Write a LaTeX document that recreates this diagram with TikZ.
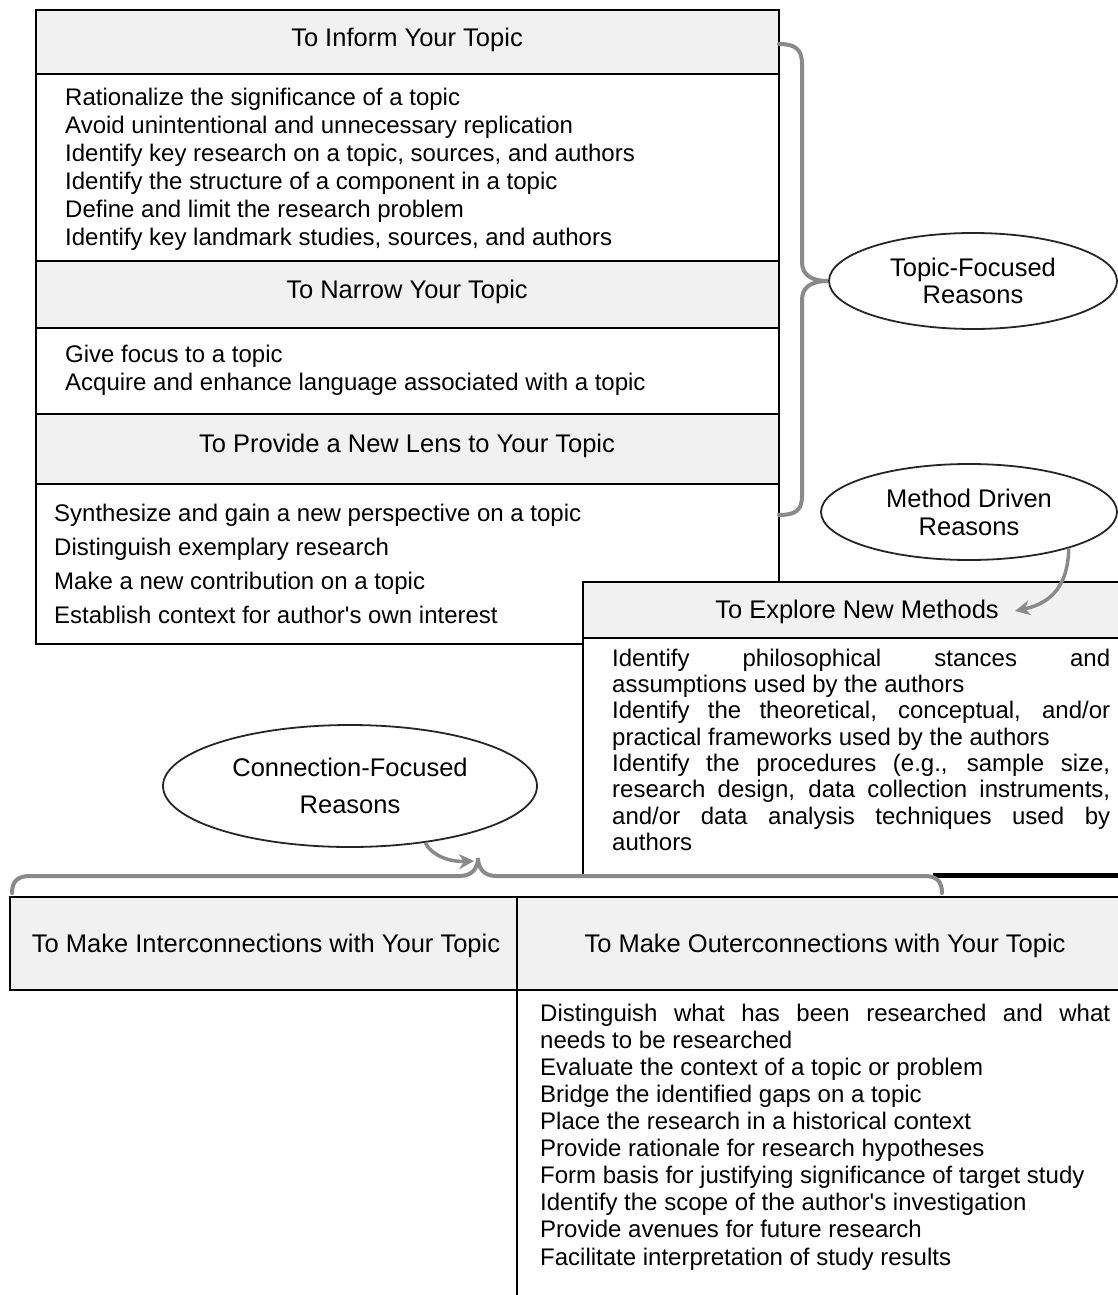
\documentclass[tikz,border=0pt]{standalone}
\usepackage{fontspec}
\setmainfont{Liberation Sans}
\usetikzlibrary{shapes.geometric,arrows.meta}
\definecolor{hdr}{HTML}{F1F1F1}
\definecolor{brc}{HTML}{8A8A8A}
\begin{document}
\begin{tikzpicture}[x=1pt,y=-1pt,
  box/.style={draw=black,line width=1.5pt},
  hdrbox/.style={box,fill=hdr},
  hdrtext/.style={font=\fontsize{25.5}{28}\selectfont,inner sep=0pt,anchor=base},
  items/.style={align=left,inner sep=0pt,anchor=north west},
  oval/.style={ellipse,draw=black!85,line width=1.8pt,fill=white,inner sep=0pt,align=center},
  brace/.style={draw=brc,line width=4pt,line cap=round},
  arr/.style={draw=brc,line width=3.5pt,-{Stealth[length=15pt,width=15pt]}}
]
\useasboundingbox (0,0) rectangle (1118,1295);

% ---------- left stacked box ----------
\path[hdrbox] (36,10) rectangle (779,74);
\draw[box] (36,74) rectangle (779,261);
\path[hdrbox] (36,261) rectangle (779,328);
\draw[box] (36,328) rectangle (779,414);
\path[hdrbox] (36,414) rectangle (779,484);
\draw[box] (36,484) rectangle (779,644);

\node[hdrtext] (inform) at (407,47) {To Inform Your Topic};
\node[items,font=\fontsize{24}{28}\selectfont] (informitems) at (65,85.4) {%
\strut Rationalize the significance of a topic\\
\strut Avoid unintentional and unnecessary replication\\
\strut Identify key research on a topic, sources, and authors\\
\strut Identify the structure of a component in a topic\\
\strut Define and limit the research problem\\
\strut Identify key landmark studies, sources, and authors};

\node[hdrtext] (narrow) at (407,298) {To Narrow Your Topic};
\node[items,font=\fontsize{24}{28}\selectfont] (narrowitems) at (65,342.4) {%
\strut Give focus to a topic\\
\strut Acquire and enhance language associated with a topic};

\node[hdrtext] (lens) at (407,452) {To Provide a New Lens to Your Topic};
\node[items,font=\fontsize{24}{34}\selectfont] (lensitems) at (54,497.2) {%
\strut Synthesize and gain a new perspective on a topic\\
\strut Distinguish exemplary research\\
\strut Make a new contribution on a topic\\
\strut Establish context for author\textquotesingle s own interest};

% ---------- explore box ----------
\fill[white] (583,582) rectangle (1125,875);
\path[hdrbox] (583,582) rectangle (1125,638);
\draw[box] (583,876) -- (583,582) -- (1125,582);
\draw[line width=5pt] (933,875) -- (1125,875);
\node[hdrtext] (explore) at (857,618) {To Explore New Methods};
\node[items,font=\fontsize{24}{26.3}\selectfont] (exploreitems) at (612,647.6) {%
\strut\makebox[498pt][s]{Identify philosophical stances and}\\
\strut assumptions used by the authors\\
\strut\makebox[498pt][s]{Identify the theoretical, conceptual, and/or}\\
\strut practical frameworks used by the authors\\
\strut\makebox[498pt][s]{Identify the procedures (e.g., sample size,}\\
\strut\makebox[498pt][s]{research design, data collection instruments,}\\
\strut\makebox[498pt][s]{and/or data analysis techniques used by}\\
\strut authors};

% ---------- bottom row ----------
\path[hdrbox] (10,897) rectangle (517,990);
\path[hdrbox] (517,897) rectangle (1125,990);
\draw[box] (517,990) -- (517,1300);
\node[hdrtext] (inter) at (266,952) {To Make Interconnections with Your Topic};
\node[hdrtext] (outer) at (825,952) {To Make Outerconnections with Your Topic};
\node[items,font=\fontsize{24}{27.1}\selectfont] (outeritems) at (540,1002) {%
\strut\makebox[570pt][s]{Distinguish what has been researched and what}\\
\strut needs to be researched\\
\strut Evaluate the context of a topic or problem\\
\strut Bridge the identified gaps on a topic\\
\strut Place the research in a historical context\\
\strut Provide rationale for research hypotheses\\
\strut Form basis for justifying significance of target study\\
\strut Identify the scope of the author\textquotesingle s investigation\\
\strut Provide avenues for future research\\
\strut Facilitate interpretation of study results};

% ---------- ellipses ----------
\node[oval,minimum width=288pt,minimum height=96pt,font=\fontsize{25.5}{27}\selectfont] (topic) at (973,281) {Topic-Focused\\Reasons};
\node[oval,minimum width=296pt,minimum height=96pt,font=\fontsize{25.5}{28}\selectfont] (method) at (969,512) {Method Driven\\Reasons};
\node[oval,minimum width=374pt,minimum height=122pt,font=\fontsize{25.5}{37}\selectfont] (conn) at (350,786) {Connection-Focused\\Reasons};

% ---------- braces ----------
\draw[brace] (779,44) .. controls (796,44) and (802,50) .. (802,64) -- (802,262)
  .. controls (802,274) and (810,281) .. (topic.west)
  .. controls (810,281) and (802,288) .. (802,300) -- (802,496)
  .. controls (802,510) and (796,515) .. (779,515);

\coordinate (btip) at (478,858);
\draw[brace] (12,893) .. controls (12,881) and (18,876) .. (30,876) -- (460,876)
  .. controls (472,876) and (478,868) .. (btip)
  .. controls (478,868) and (484,876) .. (496,876) -- (925,876)
  .. controls (937,876) and (942,882) .. (942,893);

% ---------- arrows ----------
\coordinate (mend) at (1015,611);
\draw[arr] (method.-20) .. controls (1068,585) and (1052,603) .. (mend);
\coordinate (cend) at (474,861);
\draw[arr] (conn.-37) .. controls (432,856) and (450,862) .. (cend);
\end{tikzpicture}
\end{document}
